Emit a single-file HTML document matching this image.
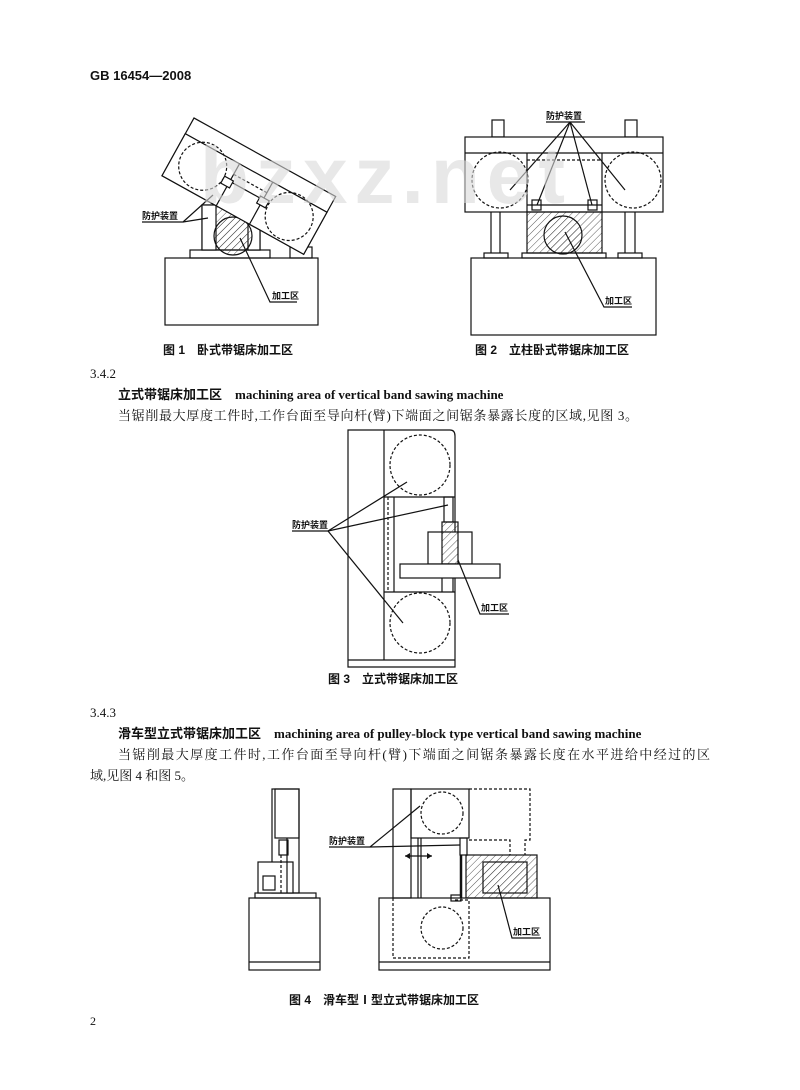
<!DOCTYPE html>
<html><head><meta charset="utf-8"><style>
html,body{margin:0;padding:0;background:#fff;}
svg{display:block;}
.t{font-family:"Liberation Serif","Noto Serif CJK SC","Noto Sans CJK SC",serif;fill:#111;}
.b{font-family:"Liberation Sans","Noto Sans CJK SC",sans-serif;font-weight:bold;fill:#111;}
.l{font-family:"Liberation Sans","Noto Sans CJK SC",sans-serif;font-weight:bold;fill:#111;font-size:9px;}
</style></head><body>
<svg width="800" height="1090" viewBox="0 0 800 1090" xmlns="http://www.w3.org/2000/svg">
<defs>
<pattern id="h" width="5" height="5" patternUnits="userSpaceOnUse" patternTransform="rotate(45)">
<line x1="0" y1="0" x2="0" y2="5" stroke="#333" stroke-width="0.8"/></pattern>
</defs>
<rect width="800" height="1090" fill="#fff"/>
<text x="90" y="80" class="b" font-size="13">GB 16454—2008</text>

<g fill="none" stroke="#111" stroke-width="1.2">
<!-- FIG 1 -->
<rect x="165" y="258" width="153" height="67"/>
<rect x="190" y="250" width="80" height="8"/>
<rect x="290" y="247" width="22" height="11"/>
<rect x="202" y="205" width="58" height="45" fill="url(#h)"/>
<rect x="202" y="205" width="14" height="45" fill="#fff"/>
<rect x="248" y="205" width="12" height="45" fill="#fff"/>
<circle cx="233" cy="236" r="19" fill="url(#h)"/>
<g transform="translate(194,118) rotate(29)">
<rect x="0" y="0" width="162" height="66" fill="#fff"/>
<line x1="0" y1="18" x2="162" y2="18"/>
<rect x="0" y="18" width="62" height="48" fill="#fff"/>
<rect x="100" y="18" width="62" height="48" fill="#fff"/>
<line x1="62" y1="30" x2="100" y2="30" stroke-dasharray="3,2"/>
<line x1="62" y1="38" x2="100" y2="38"/>
<circle cx="31" cy="38" r="24" stroke-dasharray="3,2"/>
<circle cx="131" cy="40" r="24" stroke-dasharray="3,2"/>
<rect x="55" y="36" width="10" height="8" fill="#fff"/>
<rect x="96" y="36" width="10" height="8" fill="#fff"/>
</g>
<polyline points="142,222 183,222 213,195"/>
<line x1="183" y1="222" x2="208" y2="218"/>
<polyline points="297,302 270,302 240,238"/>

<!-- FIG 2 -->
<rect x="492" y="120" width="12" height="17"/>
<rect x="625" y="120" width="12" height="17"/>
<rect x="465" y="137" width="198" height="75" fill="#fff"/>
<line x1="465" y1="153" x2="663" y2="153"/>
<line x1="527" y1="153" x2="527" y2="212"/>
<line x1="602" y1="153" x2="602" y2="212"/>
<line x1="527" y1="160" x2="602" y2="160" stroke-dasharray="3,2"/>
<line x1="527" y1="205" x2="602" y2="205"/>
<circle cx="500" cy="180" r="28" stroke-dasharray="3,2"/>
<circle cx="633" cy="180" r="28" stroke-dasharray="3,2"/>
<rect x="532" y="200" width="9" height="10"/>
<rect x="588" y="200" width="9" height="10"/>
<line x1="491" y1="212" x2="491" y2="253"/><line x1="500" y1="212" x2="500" y2="253"/>
<line x1="625" y1="212" x2="625" y2="253"/><line x1="635" y1="212" x2="635" y2="253"/>
<rect x="484" y="253" width="24" height="5"/><rect x="618" y="253" width="24" height="5"/>
<rect x="527" y="212" width="75" height="41" fill="url(#h)"/>
<circle cx="563" cy="235" r="19" fill="url(#h)"/>
<rect x="522" y="253" width="84" height="5"/>
<rect x="471" y="258" width="185" height="77"/>
<polyline points="546,122 585,122"/>
<line x1="570" y1="122" x2="510" y2="190"/>
<line x1="570" y1="122" x2="537" y2="205"/>
<line x1="570" y1="122" x2="592" y2="205"/>
<line x1="570" y1="122" x2="625" y2="190"/>
<polyline points="632,307 604,307 565,232"/>

<!-- FIG 3 -->
<path d="M348,430 H450 Q455,430 455,436 V667 H348 Z"/>
<line x1="348" y1="660" x2="455" y2="660"/>
<line x1="384" y1="430" x2="384" y2="660"/>
<line x1="384" y1="497" x2="455" y2="497"/>
<line x1="384" y1="592" x2="455" y2="592"/>
<circle cx="420" cy="465" r="30" stroke-dasharray="3,2"/>
<circle cx="420" cy="623" r="30" stroke-dasharray="3,2"/>
<line x1="394" y1="497" x2="394" y2="592"/>
<line x1="388" y1="497" x2="388" y2="592" stroke-dasharray="3,2"/>
<rect x="444" y="497" width="9" height="25"/>
<rect x="428" y="532" width="44" height="32" fill="#fff"/>
<rect x="442" y="522" width="16" height="42" fill="url(#h)"/>
<rect x="400" y="564" width="100" height="14" fill="#fff"/>
<line x1="442" y1="578" x2="442" y2="592"/><line x1="453" y1="578" x2="453" y2="592"/>
<polyline points="292,531 328,531"/>
<line x1="328" y1="531" x2="407" y2="482"/>
<line x1="328" y1="531" x2="448" y2="505"/>
<line x1="328" y1="531" x2="403" y2="623"/>
<polyline points="509,614 480,614 458,560"/>

<!-- FIG 4 left -->
<rect x="249" y="898" width="71" height="72"/>
<line x1="249" y1="962" x2="320" y2="962"/>
<rect x="255" y="893" width="61" height="5"/>
<rect x="272" y="789" width="27" height="104"/>
<rect x="275" y="789" width="24" height="49"/>
<rect x="258" y="862" width="35" height="31" fill="#fff"/>
<rect x="263" y="876" width="12" height="14"/>
<rect x="279" y="840" width="9" height="15"/>
<line x1="281" y1="855" x2="281" y2="893" stroke-dasharray="3,2"/>
<line x1="287" y1="838" x2="287" y2="893"/>

<!-- FIG 4 right -->
<rect x="379" y="898" width="171" height="72"/>
<line x1="379" y1="962" x2="550" y2="962"/>
<rect x="393" y="789" width="18" height="109"/>
<rect x="411" y="789" width="58" height="49"/>
<circle cx="442" cy="813" r="21" stroke-dasharray="3,2"/>
<polyline points="469,789 530,789 530,840 525,840 525,855" stroke-dasharray="3,2"/>
<polyline points="469,840 510,840 510,855" stroke-dasharray="3,2"/>
<line x1="418" y1="838" x2="418" y2="898"/><line x1="421" y1="838" x2="421" y2="898"/>
<rect x="460" y="838" width="7" height="17"/>
<line x1="461" y1="855" x2="461" y2="898" stroke-width="2.5"/>
<rect x="466" y="855" width="71" height="43" fill="url(#h)"/>
<rect x="483" y="862" width="44" height="31" fill="url(#h)"/>
<rect x="451" y="895" width="10" height="6"/>
<polyline points="393,898 393,958 469,958 469,900 455,900" stroke-dasharray="3,2"/>
<circle cx="442" cy="928" r="21" stroke-dasharray="3,2"/>
<line x1="405" y1="856" x2="432" y2="856"/>
<polyline points="329,847 370,847"/>
<line x1="370" y1="847" x2="420" y2="806"/>
<line x1="370" y1="847" x2="460" y2="845"/>
<polyline points="541,938 512,938 498,885"/>
</g>
<g fill="#111">
<polygon points="405,856 410,853 410,859"/><polygon points="432,856 427,853 427,859"/>
</g>

<!-- watermark -->
<text x="200" y="203" font-family="Liberation Sans,sans-serif" font-weight="bold" font-size="80" fill="#d8d8d8" fill-opacity="0.6" textLength="365">bzxz.net</text>

<!-- labels -->
<text x="142" y="219" class="l">防护装置</text>
<text x="272" y="299" class="l">加工区</text>
<text x="546" y="119" class="l">防护装置</text>
<text x="605" y="304" class="l">加工区</text>
<text x="292" y="528" class="l">防护装置</text>
<text x="481" y="611" class="l">加工区</text>
<text x="329" y="844" class="l">防护装置</text>
<text x="513" y="935" class="l">加工区</text>

<!-- captions -->
<text x="163" y="354" class="b" font-size="12">图 1　卧式带锯床加工区</text>
<text x="475" y="354" class="b" font-size="12">图 2　立柱卧式带锯床加工区</text>
<text x="328" y="683" class="b" font-size="12">图 3　立式带锯床加工区</text>
<text x="289" y="1004" class="b" font-size="12">图 4　滑车型Ⅰ型立式带锯床加工区</text>

<!-- body -->
<text x="90" y="378" class="t" font-size="13">3.4.2</text>
<text x="118" y="399" class="b" font-size="13">立式带锯床加工区　<tspan font-family="Liberation Serif,serif">machining area of vertical band sawing machine</tspan></text>
<text x="118" y="420" class="t" font-size="13" textLength="520">当锯削最大厚度工件时,工作台面至导向杆(臂)下端面之间锯条暴露长度的区域,见图 3。</text>
<text x="90" y="717" class="t" font-size="13">3.4.3</text>
<text x="118" y="738" class="b" font-size="13">滑车型立式带锯床加工区　<tspan font-family="Liberation Serif,serif">machining area of pulley-block type vertical band sawing machine</tspan></text>
<text x="118" y="759" class="t" font-size="13" textLength="592">当锯削最大厚度工件时,工作台面至导向杆(臂)下端面之间锯条暴露长度在水平进给中经过的区</text>
<text x="90" y="780" class="t" font-size="13">域,见图 4 和图 5。</text>
<text x="90" y="1025" class="t" font-size="12">2</text>
</svg>
</body></html>
